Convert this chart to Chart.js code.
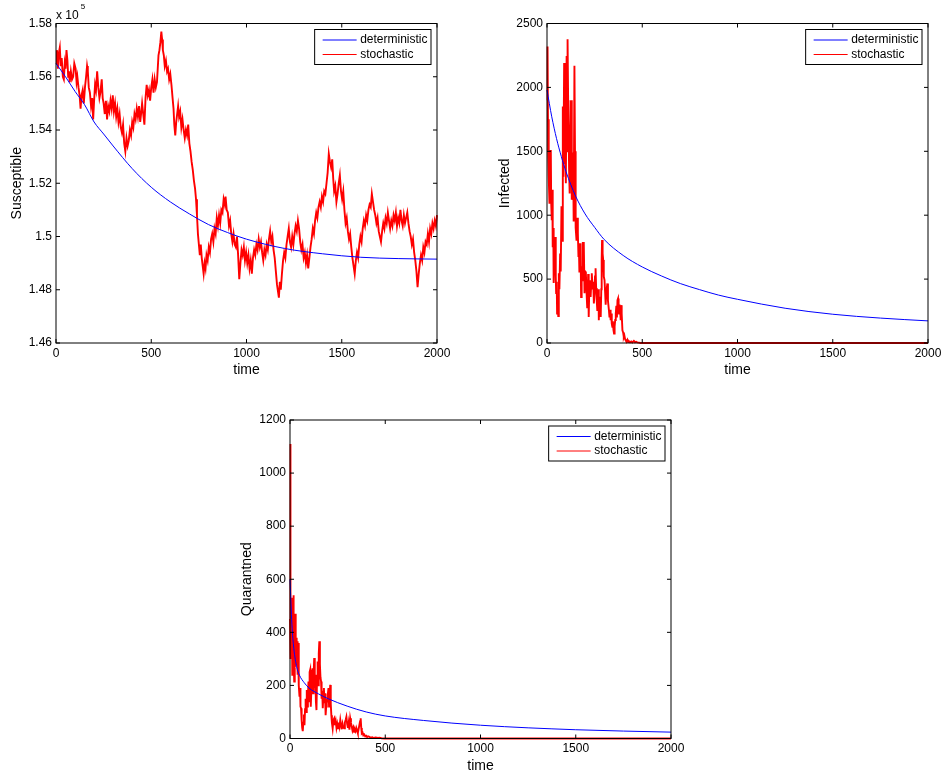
<!DOCTYPE html>
<html>
<head>
<meta charset="utf-8">
<title>deterministic vs stochastic</title>
<script src="https://cdn.jsdelivr.net/npm/chart.js@4/dist/chart.umd.min.js"></script>
<style>
  html, body { margin: 0; padding: 0; background: #fff; overflow: hidden; }
  canvas { position: absolute; }
</style>
</head>
<body>
<canvas id="susChart" width="470" height="385" style="left:0px;top:0px"></canvas>
<canvas id="infChart" width="452" height="385" style="left:490px;top:0px"></canvas>
<canvas id="quaChart" width="470" height="379" style="left:230px;top:396px"></canvas>
<script>
// --- data (time, value) ---
const timeTicks = [0, 500, 1000, 1500, 2000];

const susDet = [[0,156500],[50,156000],[100,155450],[150,154950],[200,154300],[250,153850],[300,153400],
  [400,152550],[500,151850],[600,151300],[700,150850],[800,150450],[900,150150],[1000,149900],
  [1200,149550],[1400,149350],[1600,149220],[1800,149170],[2000,149150]];

const susStoch = [[0,156500],[5,157000],[10,156300],[15,156900],[20,157100],[25,156400],[30,156700],[36,156000],
  [41,155900],[46,156500],[50,156300],[55,157000],[60,156600],[64,156000],[68,156200],[72,155800],[78,156200],
  [84,155900],[90,156000],[96,156500],[103,156300],[108,155800],[112,156000],[118,155600],[124,155300],[129,154800],
  [134,155300],[140,155500],[146,155000],[152,155600],[158,156000],[163,156400],[167,156200],[172,155600],[178,155400],
  [184,154900],[190,155200],[195,154400],[200,155100],[205,155700],[210,155500],[216,156200],[222,155600],[228,155200],
  [233,155400],[240,155900],[245,155200],[250,155000],[256,154600],[262,155100],[268,154400],[274,154900],[280,154700],
  [286,155100],[292,154800],[298,155300],[304,154700],[310,155000],[316,154500],[322,154800],[328,154300],[334,154600],
  [340,154100],[346,153900],[352,154200],[358,153500],[364,153200],[370,153700],[376,153400],[382,153600],[388,154000],
  [394,153800],[400,154300],[406,154100],[412,154600],[418,154400],[424,154800],[430,154500],[436,154900],[442,154300],
  [448,154700],[452,155000],[458,154600],[464,154200],[470,155200],[476,155700],[482,155300],[488,155500],[494,155100],
  [500,155600],[506,155900],[512,155400],[518,155900],[524,155600],[530,155800],[534,156300],[538,156800],[543,157000],
  [548,157300],[553,157700],[557,157400],[561,157000],[566,156800],[571,156400],[577,156600],[583,156200],[588,156300],
  [594,155900],[600,156100],[606,155700],[612,155200],[617,154800],[621,154200],[626,153800],[631,154300],[636,154600],
  [641,154900],[646,154500],[652,154700],[658,154100],[664,154400],[670,154000],[676,153700],[682,154000],[688,153800],
  [694,154200],[700,153500],[706,153200],[712,152800],[718,152500],[724,152100],[730,151800],[735,151400],[740,150800],
  [745,150100],[750,149700],[755,149300],[760,149700],[765,149200],[770,148900],[775,148600],[780,149000],[785,148800],
  [790,149300],[796,149100],[802,149600],[808,149400],[814,149900],[820,150100],[826,149800],[832,150300],[838,150100],
  [844,150700],[850,150400],[856,150800],[862,150500],[868,151000],[874,150900],[880,151400],[886,151200],[890,151500],
  [896,151000],[902,150900],[908,150400],[914,150600],[920,150100],[926,149800],[932,150100],[938,149700],[944,149600],
  [950,150000],[956,149300],[962,148400],[968,149000],[974,149500],[980,149300],[986,149600],[992,149100],[998,149400],
  [1004,149000],[1010,149300],[1016,148800],[1022,149100],[1028,148600],[1034,149200],[1040,149500],[1046,149300],
  [1052,149700],[1058,149500],[1064,149900],[1070,149600],[1076,149800],[1082,149400],[1088,149100],[1094,149500],
  [1100,149300],[1106,149700],[1112,149500],[1118,149900],[1124,150200],[1130,149800],[1136,150000],[1142,149500],
  [1148,149200],[1154,148700],[1160,148200],[1166,147900],[1170,147700],[1175,148300],[1180,148000],[1186,148600],
  [1192,149100],[1198,149400],[1204,149200],[1210,149700],[1216,150000],[1222,150300],[1228,149800],[1234,149600],
  [1240,150000],[1246,149700],[1252,150100],[1258,150400],[1264,150200],[1270,150600],[1276,150300],[1282,149800],
  [1288,149500],[1294,149700],[1300,149200],[1306,149400],[1312,149000],[1318,149300],[1324,148800],[1330,149200],
  [1336,149600],[1342,149900],[1348,150300],[1354,150100],[1360,150600],[1366,150900],[1372,150700],[1378,151100],
  [1384,151300],[1390,151100],[1396,151500],[1402,151300],[1408,151700],[1414,151600],[1420,152000],[1426,152400],
  [1432,153100],[1438,152800],[1444,152600],[1450,152900],[1455,152200],[1460,151700],[1466,151900],[1472,151300],
  [1478,151600],[1484,152000],[1490,152300],[1496,151700],[1502,151400],[1508,151700],[1514,151000],[1520,150500],
  [1526,150700],[1532,150200],[1538,149900],[1544,150100],[1550,149600],[1556,149200],[1562,148900],[1568,148600],
  [1574,149100],[1580,149400],[1586,149200],[1592,149700],[1598,150000],[1604,149800],[1610,150300],[1616,150600],
  [1622,150400],[1628,150800],[1634,150600],[1640,151000],[1646,151200],[1652,151100],[1658,151600],[1664,151300],
  [1670,151000],[1676,150800],[1682,150500],[1688,150700],[1694,150200],[1700,150000],[1706,149800],[1712,150200],
  [1718,150500],[1724,150300],[1730,150700],[1736,150500],[1742,150900],[1748,150600],[1754,150300],[1760,150600],
  [1766,150400],[1772,150800],[1778,150600],[1784,150900],[1790,150400],[1796,150700],[1802,150500],[1808,151000],
  [1814,150600],[1820,150400],[1826,150800],[1832,150500],[1838,150700],[1844,150900],[1850,150500],[1856,150200],
  [1862,150000],[1868,149700],[1874,149900],[1880,149400],[1886,149100],[1892,148700],[1898,148100],[1904,148600],
  [1910,149000],[1916,149300],[1922,149100],[1928,149600],[1934,149400],[1940,149800],[1946,149700],[1952,150100],
  [1958,149800],[1964,150300],[1970,150100],[1976,150500],[1982,150300],[1988,150600],[1994,150400],[2000,150800]];

const infDet = [[0,1980],[25,1770],[50,1600],[75,1460],[100,1340],[150,1150],[200,1010],[250,905],[300,810],
  [400,685],[500,595],[600,525],[700,465],[800,418],[900,375],[1000,342],[1250,272],[1500,225],[1750,195],[2000,173]];

const infStoch = [[0,1900],[3,2320],[6,1500],[8,1750],[10,1300],[13,1090],[16,1500],[20,1510],[22,1100],[25,960],
  [28,1200],[30,750],[33,900],[35,470],[38,700],[41,560],[43,830],[46,520],[48,390],[51,480],[53,230],[56,330],
  [59,210],[62,545],[65,420],[69,700],[72,560],[76,1070],[79,800],[83,1850],[86,1300],[90,2190],[93,1400],[96,1620],
  [99,1250],[103,2245],[106,1500],[108,2376],[111,1900],[113,1750],[116,1350],[119,1170],[122,1600],[126,1900],
  [129,1300],[131,1120],[134,1450],[137,1490],[140,950],[144,2170],[147,1500],[149,1070],[152,900],[155,800],
  [158,980],[162,860],[165,680],[167,780],[170,560],[173,700],[176,780],[179,360],[182,600],[185,490],[188,790],
  [190,730],[193,790],[197,390],[200,560],[204,550],[207,420],[211,280],[214,360],[216,540],[219,204],[222,420],
  [225,490],[229,360],[232,460],[235,545],[240,420],[243,480],[246,310],[249,380],[252,520],[255,585],[258,430],
  [261,330],[264,257],[267,300],[270,420],[272,178],[275,361],[278,300],[282,204],[285,420],[287,650],[289,806],
  [292,700],[295,650],[298,520],[302,492],[305,400],[308,300],[310,361],[313,420],[317,466],[320,330],[325,257],
  [328,200],[331,260],[334,178],[337,230],[340,150],[343,126],[346,170],[349,100],[352,74],[355,130],[358,180],
  [361,231],[364,290],[367,200],[370,335],[373,348],[376,260],[378,231],[381,300],[384,250],[387,178],[389,296],
  [392,230],[396,100],[400,80],[403,47],[406,60],[410,30],[413,21],[418,12],[422,25],[426,8],[430,14],[436,6],
  [442,12],[448,4],[456,16],[462,6],[468,10],[474,5],[482,3],[491,0],[2000,0]];

const quaDet = [[0,600],[10,430],[20,340],[35,270],[50,238],[75,210],[100,190],[150,168],[200,150],[300,122],
  [400,100],[500,85],[700,68],[1000,50],[1500,33],[2000,24]];

const quaStoch = [[0,450],[1,1110],[2,600],[3,850],[4,300],[6,520],[8,320],[10,530],[12,240],[14,480],[16,380],
  [18,540],[20,300],[22,215],[24,410],[26,330],[28,470],[30,280],[32,284],[34,380],[36,300],[38,366],[40,240],
  [42,360],[45,341],[47,200],[50,158],[53,190],[55,120],[58,114],[61,70],[64,40],[67,28],[70,60],[73,90],[76,50],
  [79,110],[82,150],[85,100],[88,183],[91,120],[94,160],[97,215],[100,140],[103,250],[106,259],[109,120],[112,180],
  [115,210],[118,265],[121,170],[124,240],[127,303],[130,190],[133,240],[136,139],[139,107],[142,230],[145,290],
  [148,200],[151,320],[154,366],[157,280],[160,230],[163,215],[166,150],[169,180],[172,114],[175,160],[178,190],
  [181,133],[184,170],[187,88],[190,120],[193,150],[196,139],[199,170],[202,190],[205,120],[208,150],[211,202],
  [214,130],[217,88],[220,60],[224,38],[228,70],[232,76],[236,50],[240,65],[244,40],[248,55],[252,38],[256,60],
  [260,45],[264,70],[268,50],[272,35],[276,55],[280,42],[284,38],[288,60],[292,70],[296,82],[300,55],[304,40],
  [308,60],[312,33],[316,76],[320,60],[324,45],[328,30],[332,40],[336,25],[340,35],[344,28],[348,40],[352,31],
  [356,20],[360,35],[364,50],[368,65],[371,76],[374,40],[377,19],[381,22],[385,12],[390,15],[395,8],[400,10],
  [405,5],[410,8],[417,6],[424,3],[432,5],[440,2],[450,4],[461,2],[470,3],[480,1],[496,0],[2000,0]];

const seriesLabels = ['deterministic', 'stochastic'];
const seriesColors = ['#0000ff', '#ff0000'];

// --- shared look ---
const FONT = '"Liberation Sans", Arial, Helvetica, sans-serif';
Chart.defaults.font.family = FONT;
Chart.defaults.color = '#000';

const toPoints = (pairs) => pairs.map(([x, y]) => ({ x, y }));

// matlab-ish frame: box, inward ticks, legend, exponent label
const matlabFrame = {
  id: 'matlabFrame',
  afterDatasetsDraw(chart, args, opts) {
    const { ctx, chartArea: a, scales } = chart;
    ctx.save();
    ctx.strokeStyle = '#000';
    ctx.lineWidth = 1;
    ctx.strokeRect(a.left, a.top, a.right - a.left, a.bottom - a.top);

    const len = 4;
    ctx.beginPath();
    scales.x.ticks.forEach((t) => {
      const px = scales.x.getPixelForValue(t.value);
      ctx.moveTo(px, a.bottom); ctx.lineTo(px, a.bottom - len);
      ctx.moveTo(px, a.top); ctx.lineTo(px, a.top + len);
    });
    scales.y.ticks.forEach((t) => {
      const py = scales.y.getPixelForValue(t.value);
      ctx.moveTo(a.left, py); ctx.lineTo(a.left + len, py);
      ctx.moveTo(a.right, py); ctx.lineTo(a.right - len, py);
    });
    ctx.stroke();

    // legend
    ctx.font = '12px ' + FONT;
    const sets = chart.data.datasets;
    const textW = Math.max(...sets.map((d) => ctx.measureText(d.label).width));
    const boxW = 45 + textW + 4;
    const boxH = 35;
    const bx = a.right - 6 - boxW;
    const by = a.top + 6;
    ctx.fillStyle = '#fff';
    ctx.fillRect(bx, by, boxW, boxH);
    ctx.strokeRect(bx, by, boxW, boxH);
    ctx.textBaseline = 'middle';
    sets.forEach((d, i) => {
      const ly = by + 10.5 + i * 14.5;
      ctx.strokeStyle = d.borderColor;
      ctx.lineWidth = 1;
      ctx.beginPath();
      ctx.moveTo(bx + 8, ly);
      ctx.lineTo(bx + 42, ly);
      ctx.stroke();
      ctx.fillStyle = '#000';
      ctx.fillText(d.label, bx + 45.5, ly);
    });

    if (opts && opts.exponent) {
      ctx.fillStyle = '#000';
      ctx.textBaseline = 'alphabetic';
      ctx.font = '12px ' + FONT;
      ctx.fillText('x 10', a.left, a.top - 5);
      const w = ctx.measureText('x 10').width;
      ctx.font = '8px ' + FONT;
      ctx.fillText(opts.exponent, a.left + w + 2, a.top - 15);
    }
    ctx.restore();
  }
};

function makeChart(id, cfg) {
  const datasets = [
    {
      label: seriesLabels[0],
      data: toPoints(cfg.det),
      borderColor: seriesColors[0],
      borderWidth: 1,
      cubicInterpolationMode: 'monotone',
      pointRadius: 0,
      clip: 3
    },
    {
      label: seriesLabels[1],
      data: toPoints(cfg.stoch),
      borderColor: seriesColors[1],
      borderWidth: 1.9,
      tension: 0,
      pointRadius: 0,
      clip: 3
    }
  ];
  return new Chart(document.getElementById(id), {
    type: 'line',
    data: { datasets },
    options: {
      responsive: false,
      animation: false,
      devicePixelRatio: 1,
      events: [],
      layout: { padding: cfg.padding },
      plugins: {
        legend: { display: false },
        tooltip: { enabled: false },
        matlabFrame: { exponent: cfg.exponent || null }
      },
      scales: {
        x: {
          type: 'linear',
          min: 0,
          max: 2000,
          afterBuildTicks: (s) => { s.ticks = timeTicks.map((v) => ({ value: v })); },
          afterFit: (s) => { s.height = cfg.xHeight; s.paddingLeft = 0; s.paddingRight = 0; },
          grid: { display: false, drawTicks: false },
          border: { display: false },
          ticks: {
            color: '#000', font: { size: 12 }, padding: 3, maxRotation: 0,
            callback: (v) => String(v)
          },
          title: {
            display: true, text: 'time', color: '#000',
            font: { size: 14 }, padding: { top: 0, bottom: cfg.xTitlePad }
          }
        },
        y: {
          type: 'linear',
          min: cfg.yMin,
          max: cfg.yMax,
          ticks: {
            stepSize: cfg.yStep, color: '#000', font: { size: 12 }, padding: 4,
            callback: cfg.yFormat || ((v) => String(v))
          },
          afterFit: (s) => { s.width = cfg.yWidth; s.paddingTop = 0; s.paddingBottom = 0; },
          grid: { display: false, drawTicks: false },
          border: { display: false },
          title: {
            display: true, text: cfg.yTitle, color: '#000',
            font: { size: 14 }, padding: { top: cfg.yTitlePad, bottom: 0 }
          }
        }
      }
    },
    plugins: [matlabFrame]
  });
}

makeChart('susChart', {
  det: susDet, stoch: susStoch,
  yMin: 146000, yMax: 158000, yStep: 2000,
  yFormat: (v) => String(+(v / 1e5).toFixed(2)),
  yTitle: 'Susceptible', yTitlePad: 8.3, yWidth: 56,
  xHeight: 42, xTitlePad: 6.6,
  padding: { top: 23.5, right: 33, bottom: 0, left: 0 },
  exponent: '5'
});

makeChart('infChart', {
  det: infDet, stoch: infStoch,
  yMin: 0, yMax: 2500, yStep: 500,
  yTitle: 'Infected', yTitlePad: 6.6, yWidth: 57,
  xHeight: 42, xTitlePad: 6.6,
  padding: { top: 23.5, right: 14, bottom: 0, left: 0 }
});

makeChart('quaChart', {
  det: quaDet, stoch: quaStoch,
  yMin: 0, yMax: 1200, yStep: 200,
  yTitle: 'Quarantned', yTitlePad: 9.1, yWidth: 60,
  xHeight: 36.5, xTitlePad: 0.6,
  padding: { top: 24, right: 29, bottom: 0, left: 0 }
});
</script>
</body>
</html>
